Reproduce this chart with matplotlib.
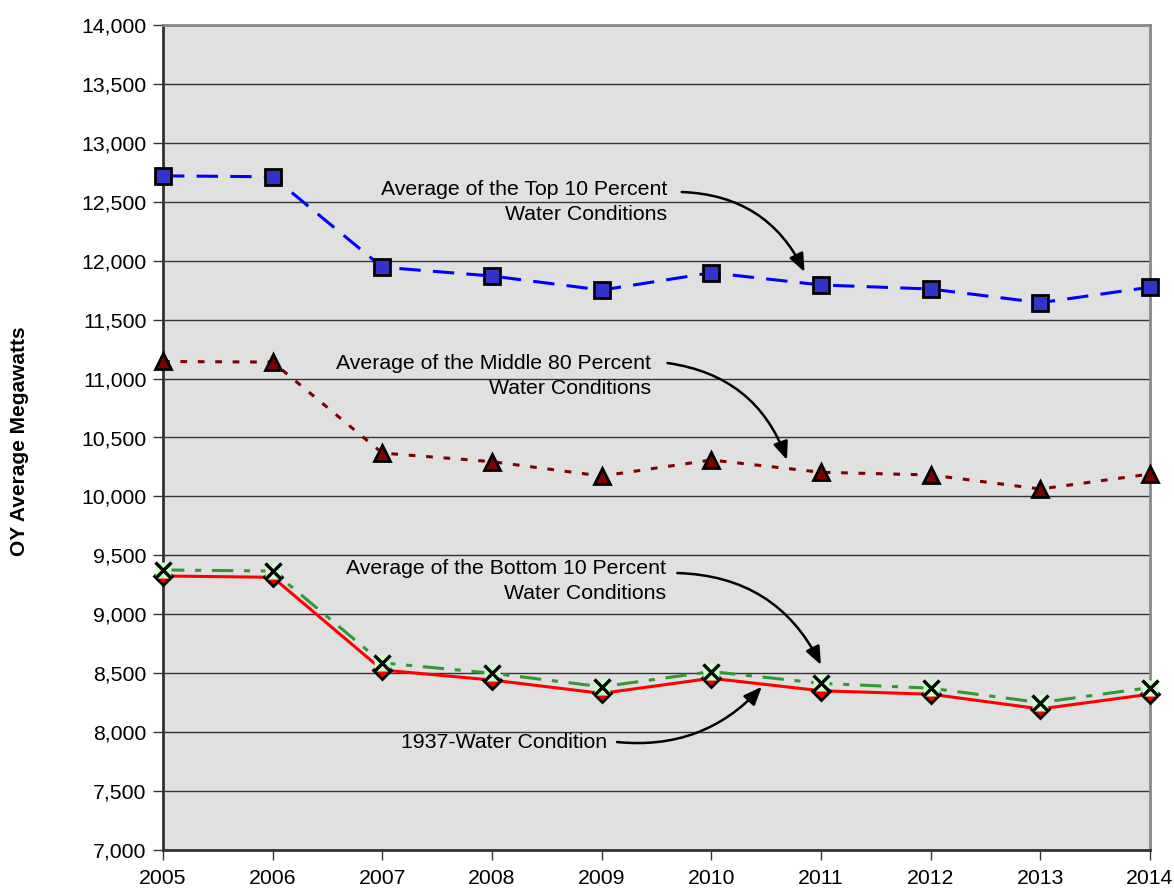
import matplotlib
matplotlib.use("Agg")
import matplotlib.pyplot as plt
from matplotlib.ticker import FuncFormatter, MultipleLocator

plt.rcParams['font.family'] = ['Liberation Sans', 'DejaVu Sans']

years = [2005, 2006, 2007, 2008, 2009, 2010, 2011, 2012, 2013, 2014]
top10 = [12720, 12712, 11945, 11870, 11751, 11898, 11794, 11760, 11644, 11775]
middle80 = [11145, 11140, 10368, 10295, 10173, 10309, 10205, 10182, 10063, 10190]
bottom10 = [9376, 9367, 8588, 8500, 8385, 8514, 8414, 8373, 8251, 8378]
water1937 = [9325, 9314, 8527, 8442, 8329, 8457, 8351, 8322, 8197, 8322]

ylabel = "OY Average Megawatts"
ann_top = "Average of the Top 10 Percent\nWater Conditions"
ann_mid = "Average of the Middle 80 Percent\nWater Conditions"
ann_bot = "Average of the Bottom 10 Percent\nWater Conditions"
ann_1937 = "1937-Water Condition"

fig = plt.figure(figsize=(11.74, 8.88), dpi=100)
ax = fig.add_axes([163/1174, 1-850/888, (1150-163)/1174, (850-25)/888])
ax.set_facecolor('#E0E0E0')

ax.set_xlim(2005, 2014)
ax.set_ylim(7000, 14000)
ax.yaxis.set_major_locator(MultipleLocator(500))
ax.yaxis.set_major_formatter(FuncFormatter(lambda v, p: f"{int(v):,}"))
ax.set_xticks(years)
ax.set_xticklabels([str(y) for y in years])
ax.grid(axis='y', color='#333333', lw=1.0)
ax.set_axisbelow(True)

ax.tick_params(axis='both', labelsize=15.3, direction='out', length=7, width=1,
               color='#333333')
ax.tick_params(axis='x', pad=7)
ax.tick_params(axis='y', pad=5)

for s in ['left', 'bottom']:
    ax.spines[s].set_color('#333333')
    ax.spines[s].set_linewidth(2)
for s in ['right', 'top']:
    ax.spines[s].set_color('#888888')
    ax.spines[s].set_linewidth(2)

ax.set_ylabel(ylabel, fontsize=15, fontweight='bold')
ax.yaxis.set_label_coords(-0.136, 0.495)

# Top 10 percent
ax.plot(years, top10, color='#0000FF', lw=2.2, dashes=(7, 4), marker='s',
        markersize=11, markerfacecolor='#3333CC', markeredgecolor='black',
        markeredgewidth=2, clip_on=False, zorder=4)
# Middle 80 percent
ax.plot(years, middle80, color='#800000', lw=2.2, dashes=(2.2, 3.5), marker='^',
        markersize=11, markerfacecolor='#800000', markeredgecolor='black',
        markeredgewidth=2, clip_on=False, zorder=4)
# 1937 water
ax.plot(years, water1937, color='#FF0000', lw=2.2, marker='D',
        markersize=9.5, markerfacecolor='#FF0000', markeredgecolor='black',
        markeredgewidth=2, clip_on=False, zorder=4)
# Bottom 10 percent
ax.plot(years, bottom10, color='#339933', lw=2.2, dashes=(7, 3.5, 2, 3.5),
        clip_on=False, zorder=5)
ax.plot(years, bottom10, linestyle='none', marker='s', markersize=11,
        markerfacecolor='#CCFFCC', markeredgecolor='none', clip_on=False, zorder=6)
ax.plot(years, bottom10, linestyle='none', marker='x', markersize=11,
        markeredgecolor='black', markeredgewidth=2.4, clip_on=False, zorder=7)

arrow_kw = dict(arrowstyle='-|>,head_length=1.1,head_width=0.45', color='black',
                lw=1.8, shrinkA=0, shrinkB=0)

txt_kw = dict(ha='right', va='center', fontsize=15.3, linespacing=1.45,
              multialignment='right', zorder=8)

ax.text(2009.6, 12498, ann_top, **txt_kw)
ax.annotate('', xy=(2010.85, 11904), xytext=(2009.73, 12583),
            arrowprops=dict(connectionstyle='arc3,rad=-0.3', **arrow_kw), zorder=8)

ax.text(2009.45, 11022, ann_mid, **txt_kw)
ax.annotate('', xy=(2010.69, 10309), xytext=(2009.6, 11132),
            arrowprops=dict(connectionstyle='arc3,rad=-0.3', **arrow_kw), zorder=8)

ax.text(2009.59, 9282, ann_bot, **txt_kw)
ax.annotate('', xy=(2011.0, 8570), xytext=(2009.69, 9350),
            arrowprops=dict(connectionstyle='arc3,rad=-0.3', **arrow_kw), zorder=8)

ax.text(2009.05, 7916, ann_1937, ha='right', va='center', fontsize=15.3, zorder=8)
ax.annotate('', xy=(2010.46, 8385), xytext=(2009.14, 7916),
            arrowprops=dict(connectionstyle='arc3,rad=0.25', **arrow_kw), zorder=8)

fig.savefig('out.png', dpi=100)
